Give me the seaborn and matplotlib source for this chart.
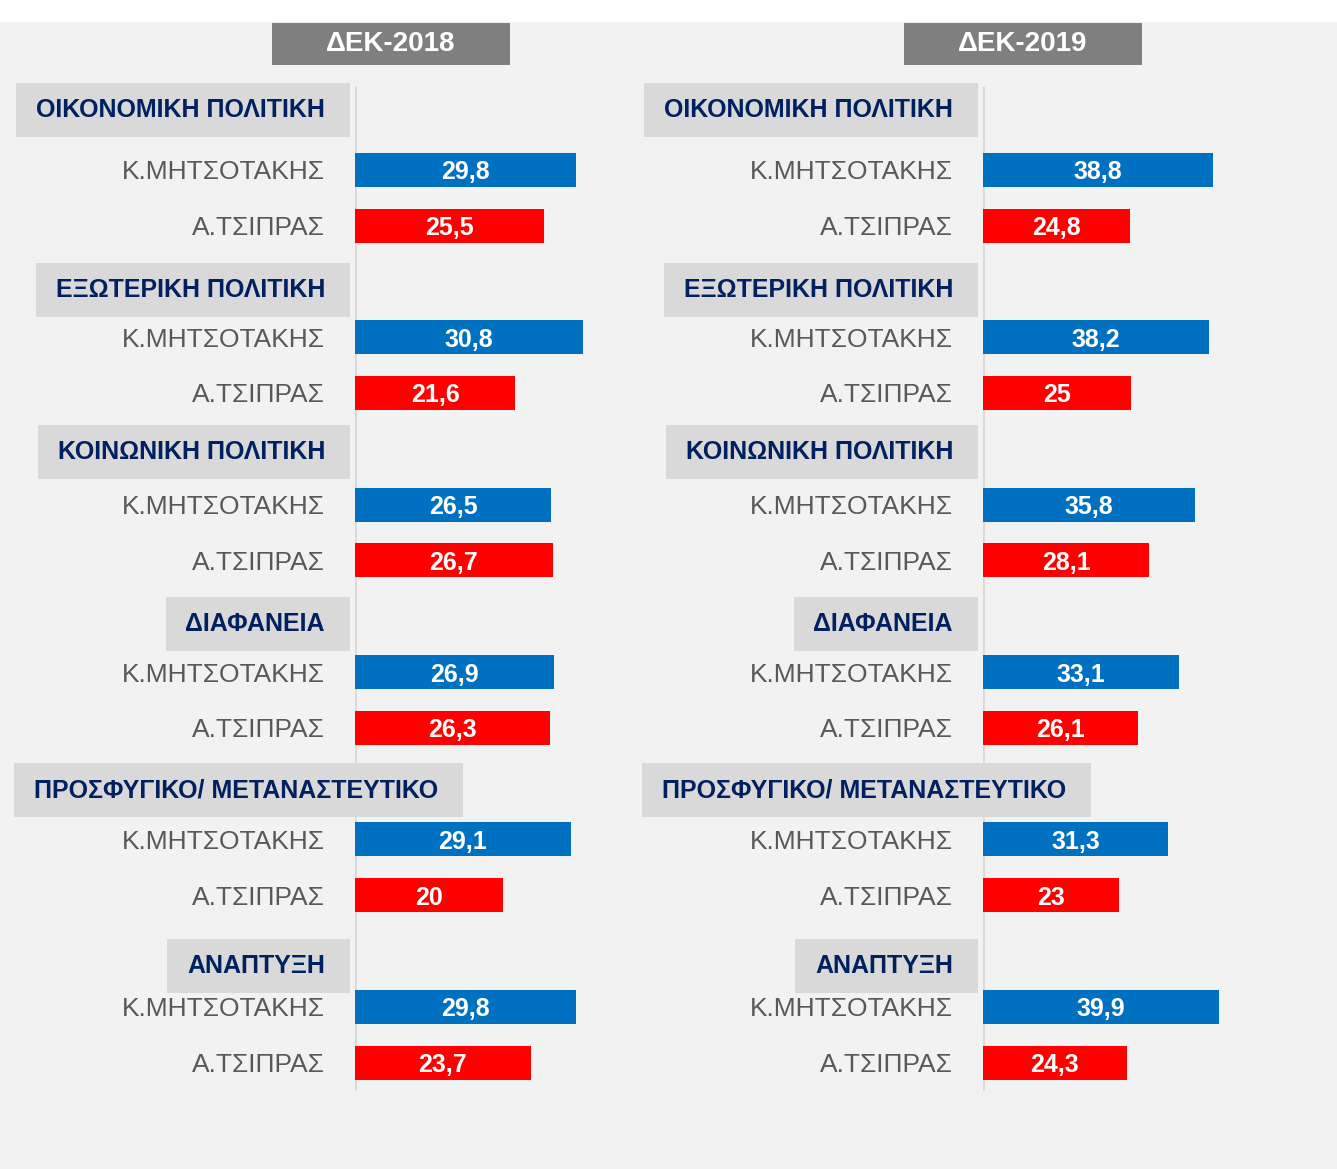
import numpy as np
import pandas as pd
import matplotlib
matplotlib.use("Agg")
import matplotlib.pyplot as plt
from matplotlib.patches import Rectangle
from matplotlib.transforms import IdentityTransform
import seaborn as sns

# ---------------- DATA ----------------
topics = [
    "ΟΙΚΟΝΟΜΙΚΗ ΠΟΛΙΤΙΚΗ",
    "ΕΞΩΤΕΡΙΚΗ ΠΟΛΙΤΙΚΗ",
    "ΚΟΙΝΩΝΙΚΗ ΠΟΛΙΤΙΚΗ",
    "ΔΙΑΦΑΝΕΙΑ",
    "ΠΡΟΣΦΥΓΙΚΟ/ ΜΕΤΑΝΑΣΤΕΥΤΙΚΟ",
    "ΑΝΑΠΤΥΞΗ",
]
leaders = ["Κ.ΜΗΤΣΟΤΑΚΗΣ", "Α.ΤΣΙΠΡΑΣ"]
periods = ["ΔΕΚ-2018", "ΔΕΚ-2019"]

mitsotakis_2018 = [29.8, 30.8, 26.5, 26.9, 29.1, 29.8]
tsipras_2018 = [25.5, 21.6, 26.7, 26.3, 20.0, 23.7]
mitsotakis_2019 = [38.8, 38.2, 35.8, 33.1, 31.3, 39.9]
tsipras_2019 = [24.8, 25.0, 28.1, 26.1, 23.0, 24.3]

values = {
    "ΔΕΚ-2018": (mitsotakis_2018, tsipras_2018),
    "ΔΕΚ-2019": (mitsotakis_2019, tsipras_2019),
}

# ---------------- STYLE ----------------
W, H = 1337, 1169
BG = "#f2f2f2"
colors = {"Κ.ΜΗΤΣΟΤΑΚΗΣ": "#0070c0", "Α.ΤΣΙΠΡΑΣ": "#ff0000"}

sns.set_style("white")
plt.rcParams["font.family"] = ["Liberation Sans", "DejaVu Sans"]

fig = plt.figure(figsize=(W / 100, H / 100), dpi=100, facecolor=BG)

# white strip at the top (cropped title area)
fig.add_artist(Rectangle((0, 1 - 22 / H), 1, 22 / H, transform=fig.transFigure,
                         facecolor="white", edgecolor="none", zorder=-5))

# panel geometry in pixels: axis x, axes width, x max, title centre
panels = [
    ("ΔΕΚ-2018", 355, 265, 265 / 7.41, 391),
    ("ΔΕΚ-2019", 983, 330, 330 / 5.92, 1023),
]

row_top, row_step = 114, 55.8
y_lo, y_hi = -1.0, 17.5
ax_top_px = row_top + y_lo * row_step
ax_bot_px = row_top + y_hi * row_step
# small per-group nudges of the header rows (layout only)
header_shift = [-0.08, 0.16, 0.05, 0.14, 0.12, 0.26]

renderer = fig.canvas.get_renderer()

for period, ax_x, ax_w, xmax, title_cx in panels:
    m_vals, t_vals = values[period]
    rows = []
    for g, topic in enumerate(topics):
        rows.append({"topic": topic, "leader": leaders[0], "value": m_vals[g], "pos": 3 * g + 1})
        rows.append({"topic": topic, "leader": leaders[1], "value": t_vals[g], "pos": 3 * g + 2})
    df = pd.DataFrame(rows)

    ax = fig.add_axes([ax_x / W, 1 - ax_bot_px / H, ax_w / W, (ax_bot_px - ax_top_px) / H])
    ax.set_facecolor("none")

    sns.barplot(data=df, x="value", y="pos", hue="leader", palette=colors,
                orient="h", native_scale=True, dodge=False, width=0.61,
                saturation=1, legend=False, linewidth=0, ax=ax, zorder=2)

    for c in ax.containers:
        labels = [f"{v:g}".replace(".", ",") for v in c.datavalues]
        texts = ax.bar_label(c, labels=labels, label_type="center", color="white",
                             fontsize=18, fontweight="bold", zorder=4)
        for t in texts:
            t.set_va("center_baseline")

    ax.set_xlim(0, xmax)
    ax.set_ylim(y_hi, y_lo)
    ax.set_xticks([])
    ax.set_yticks(df["pos"])
    ax.set_yticklabels(df["leader"], fontsize=19, color="#595959")
    ax.tick_params(axis="y", length=0, pad=22)
    ax.set_xlabel("")
    ax.set_ylabel("")
    for s in ax.spines.values():
        s.set_visible(False)
    ax.vlines(0, -0.5, 17.5, color="#d9d9d9", lw=2, zorder=1)

    # topic headers with grey boxes
    for g, topic in enumerate(topics):
        t = ax.annotate(topic, xy=(0, 3 * g + header_shift[g]), xycoords="data",
                        xytext=(-30, 0), textcoords="offset pixels",
                        ha="right", va="center", fontsize=18, fontweight="bold",
                        color="#002060", annotation_clip=False, zorder=5)
        ext = t.get_window_extent(renderer)
        if ext.width > 320:
            t.set_ha("left")
            t.xyann = (-321, 0)
            ext = t.get_window_extent(renderer)
        cy = (ext.y0 + ext.y1) / 2
        ax.add_patch(Rectangle((ext.x0 - 20, cy - 27), ext.width + 45, 54,
                               transform=IdentityTransform(), facecolor="#d9d9d9",
                               edgecolor="none", clip_on=False, zorder=3))

    # period title box
    bw, bh = 238, 42
    fig.add_artist(Rectangle(((title_cx - bw / 2) / W, 1 - 65 / H), bw / W, bh / H,
                             transform=fig.transFigure, facecolor="#7f7f7f",
                             edgecolor="none", zorder=1))
    fig.text(title_cx / W, 1 - 44 / H, period, ha="center", va="center",
             fontsize=20, fontweight="bold", color="white", zorder=2)

fig.savefig("out.png", dpi=100, facecolor=BG)
